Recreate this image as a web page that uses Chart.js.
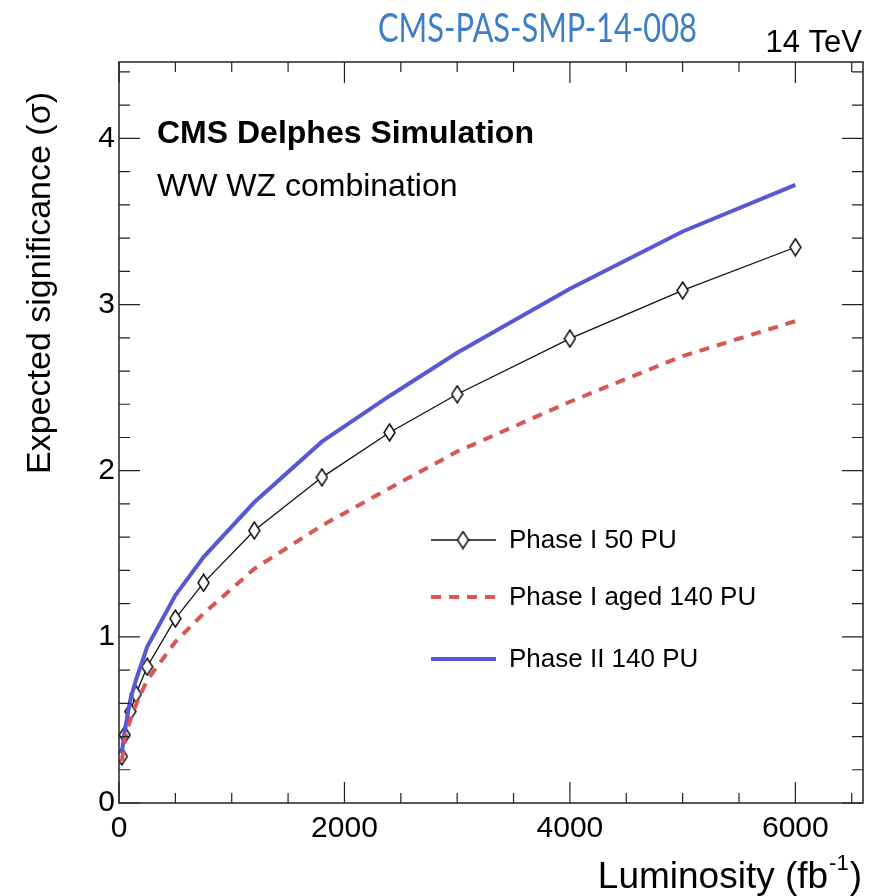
<!DOCTYPE html>
<html>
<head>
<meta charset="utf-8">
<script src="https://cdn.jsdelivr.net/npm/chart.js@4.4.1/dist/chart.umd.min.js"></script>
<style>
  html, body { margin: 0; padding: 0; background: #fff; }
  canvas { display: block; }
</style>
</head>
<body>
<canvas id="chrt" width="880" height="896"></canvas>
<script>
// integrated luminosity points (fb^-1)
const lumi = [25, 50, 100, 150, 250, 500, 750, 1200, 1800, 2400, 3000, 4000, 5000, 6000];
// expected significance
const phase1_50PU = [0.28, 0.41, 0.55, 0.655, 0.82, 1.11, 1.325, 1.64, 1.96, 2.23, 2.46, 2.795, 3.085, 3.345];
const phase1aged_140PU = [0.25, 0.38, 0.50, 0.59, 0.74, 0.97, 1.14, 1.41, 1.67, 1.895, 2.115, 2.415, 2.69, 2.90];
const phase2_140PU = [0.30, 0.43, 0.62, 0.74, 0.94, 1.25, 1.48, 1.81, 2.175, 2.45, 2.71, 3.095, 3.44, 3.72];

const xTicks = [0, 2000, 4000, 6000];
const yTicks = [0, 1, 2, 3, 4];

const FONT = "'Liberation Sans', Arial, sans-serif";
const COL_BLUE = "rgb(88, 88, 214)";
const COL_RED = "rgb(214, 88, 80)";

function pts(vals) {
  return lumi.map((x, i) => ({ x: x, y: vals[i] }));
}

// narrow open diamond, like the ROOT marker
function diamond(w, h) {
  const c = document.createElement("canvas");
  c.width = w + 2;
  c.height = h + 2;
  const g = c.getContext("2d");
  g.beginPath();
  g.moveTo(c.width / 2, 1);
  g.lineTo(c.width - 1, c.height / 2);
  g.lineTo(c.width / 2, c.height - 1);
  g.lineTo(1, c.height / 2);
  g.closePath();
  g.fillStyle = "#fff";
  g.fill();
  g.lineWidth = 1.4;
  g.strokeStyle = "#000";
  g.stroke();
  return c;
}
const mark = diamond(11, 17);

// frame with inward ticks on all four sides, plus the texts
const decor = {
  id: "decor",
  afterDraw(chart) {
    const ctx = chart.ctx;
    const a = chart.chartArea;
    const sx = chart.scales.x;
    const sy = chart.scales.y;
    ctx.save();
    ctx.strokeStyle = "#222";
    ctx.lineWidth = 1.5;
    ctx.strokeRect(a.left, a.top, a.right - a.left, a.bottom - a.top);

    ctx.lineWidth = 1.2;
    ctx.beginPath();
    for (let v = 0; v <= sx.max; v += 500) {
      const p = sx.getPixelForValue(v);
      const len = v % 2000 == 0 ? 21 : 10;
      ctx.moveTo(p, a.bottom); ctx.lineTo(p, a.bottom - len);
      ctx.moveTo(p, a.top); ctx.lineTo(p, a.top + len);
    }
    for (let i = 0; i * 0.2 <= sy.max + 1e-9; i++) {
      const p = sy.getPixelForValue(i * 0.2);
      const len = i % 5 == 0 ? 21 : 11;
      ctx.moveTo(a.left, p); ctx.lineTo(a.left + len, p);
      ctx.moveTo(a.right, p); ctx.lineTo(a.right - len, p);
    }
    ctx.stroke();

    // title
    ctx.fillStyle = "#3d7fc6";
    ctx.font = "40px Lato, 'Open Sans', sans-serif";
    ctx.textBaseline = "alphabetic";
    ctx.textAlign = "left";
    const t = "CMS-PAS-SMP-14-008";
    const tw = ctx.measureText(t).width;
    ctx.save();
    ctx.translate(378, 42);
    ctx.scale(319 / tw, 1);
    ctx.fillText(t, 0, 0);
    ctx.restore();

    ctx.fillStyle = "#000";
    ctx.font = "31px " + FONT;
    ctx.textAlign = "right";
    ctx.fillText("14 TeV", 862, 52);

    ctx.textAlign = "left";
    ctx.font = "bold 32px " + FONT;
    ctx.fillText("CMS Delphes Simulation", 157, 143);
    ctx.font = "32px " + FONT;
    ctx.fillText("WW WZ combination", 157, 196);

    // axis titles
    ctx.save();
    ctx.translate(50, 283);
    ctx.rotate(-Math.PI / 2);
    ctx.textAlign = "center";
    ctx.font = "34px " + FONT;
    ctx.fillText("Expected significance (\u03c3)", 0, 0);
    ctx.restore();

    ctx.textAlign = "right";
    ctx.font = "37px " + FONT;
    const closeW = ctx.measureText(")").width;
    ctx.fillText(")", 862, 888);
    ctx.font = "22px " + FONT;
    const supW = ctx.measureText("-1").width;
    ctx.fillText("-1", 862 - closeW - 1, 870);
    ctx.font = "37px " + FONT;
    ctx.fillText("Luminosity (fb", 862 - closeW - supW - 2, 888);

    // legend
    const leg = [
      { y: 540, txt: "Phase I 50 PU", col: "#111", w: 1.3, dash: [], m: true },
      { y: 597, txt: "Phase I aged 140 PU", col: COL_RED, w: 4, dash: [10, 8], m: false },
      { y: 659, txt: "Phase II 140 PU", col: COL_BLUE, w: 4, dash: [], m: false },
    ];
    ctx.font = "26px " + FONT;
    ctx.textAlign = "left";
    ctx.textBaseline = "middle";
    leg.forEach((l) => {
      ctx.strokeStyle = l.col;
      ctx.lineWidth = l.w;
      ctx.setLineDash(l.dash);
      ctx.beginPath();
      ctx.moveTo(431, l.y);
      ctx.lineTo(496, l.y);
      ctx.stroke();
      ctx.setLineDash([]);
      if (l.m) ctx.drawImage(mark, 463 - mark.width / 2, l.y - mark.height / 2);
      ctx.fillStyle = "#000";
      ctx.fillText(l.txt, 509, l.y + 1);
    });
    ctx.restore();
  },
};

new Chart(document.getElementById("chrt"), {
  type: "line",
  data: {
    datasets: [
      {
        label: "Phase I aged 140 PU",
        data: pts(phase1aged_140PU),
        borderColor: COL_RED,
        borderWidth: 4,
        borderDash: [10, 8],
        pointRadius: 0,
        tension: 0,
      },
      {
        label: "Phase II 140 PU",
        data: pts(phase2_140PU),
        borderColor: COL_BLUE,
        borderWidth: 4,
        pointRadius: 0,
        tension: 0,
      },
      {
        label: "Phase I 50 PU",
        data: pts(phase1_50PU),
        borderColor: "#111",
        borderWidth: 1.3,
        pointStyle: mark,
        pointRadius: 6,
        tension: 0,
      },
    ],
  },
  options: {
    responsive: false,
    animation: false,
    layout: { padding: { top: 62, right: 17, left: 0, bottom: 0 } },
    plugins: { legend: { display: false }, tooltip: { enabled: false } },
    scales: {
      x: {
        type: "linear",
        min: 0,
        max: 6600,
        grid: { display: false },
        border: { display: false },
        afterBuildTicks: (s) => { s.ticks = xTicks.map((v) => ({ value: v })); },
        afterFit: (s) => { s.height = 93; },
        ticks: {
          padding: 0,
          maxRotation: 0,
          color: "#000",
          font: { family: FONT, size: 30 },
          callback: (v) => String(v),
        },
      },
      y: {
        min: 0,
        max: 4.46,
        grid: { display: false },
        border: { display: false },
        afterBuildTicks: (s) => { s.ticks = yTicks.map((v) => ({ value: v })); },
        afterFit: (s) => { s.width = 119; },
        ticks: {
          padding: -4,
          color: "#000",
          font: { family: FONT, size: 30 },
          callback: (v) => String(v),
        },
      },
    },
  },
  plugins: [decor],
});
</script>
</body>
</html>
